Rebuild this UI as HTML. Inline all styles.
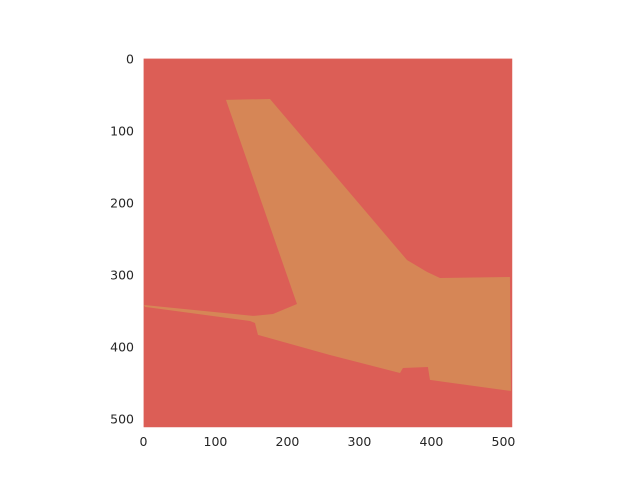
<!DOCTYPE html>
<html><head><meta charset="utf-8"><style>
html,body{margin:0;padding:0;background:#fff;}
svg{display:block;font-family:"DejaVu Sans","Liberation Sans",sans-serif;}
</style></head><body>
<svg id="chart" width="640" height="480" viewBox="0 0 640 480" xmlns="http://www.w3.org/2000/svg"></svg>
<script>
const xTicks=[0,100,200,300,400,500];
const yTicks=[0,100,200,300,400,500];
const imgSize=[512,512];
const regionX=[113.9,175,365.3,393,411.1,508.3,509.7,397.2,394.4,359.7,355.6,258.3,158.3,154.2,147.2,1.4,0,151.4,179.2,212.5];
const regionY=[56.9,55.6,279.2,295.8,304.2,302.8,461.1,445.8,427.8,429.2,436.1,411.1,383.3,366.7,363.9,344.4,341.7,356.9,354.2,340.3];

const L=143.6,T=58.6,S=0.72;
const sx=v=>L+(v+0.5)*S;
const sy=v=>T+(v+0.5)*S;
const NS="http://www.w3.org/2000/svg";
const svg=document.getElementById('chart');
function mk(tag,attrs){const e=document.createElementNS(NS,tag);for(const k in attrs)e.setAttribute(k,attrs[k]);svg.appendChild(e);return e;}

const bg=mk('rect',{x:L,y:T,width:imgSize[0]*S,height:imgSize[1]*S,fill:'#dc5e56'});



const pts=regionX.map((x,i)=>sx(x)+','+sy(regionY[i])).join(' ');
const poly=mk('polygon',{points:pts,fill:'#d68656'});



xTicks.forEach(t=>{
  const e=mk('text',{x:sx(t)-0.5,y:446,'text-anchor':'middle','font-size':'12.5',fill:'#262626'});
  e.textContent=t;
  
  
});
yTicks.forEach(t=>{
  const e=mk('text',{x:134,y:sy(t)+4.5,'text-anchor':'end','font-size':'12.5',fill:'#262626'});
  e.textContent=t;
  
  
});
</script>
</body></html>
